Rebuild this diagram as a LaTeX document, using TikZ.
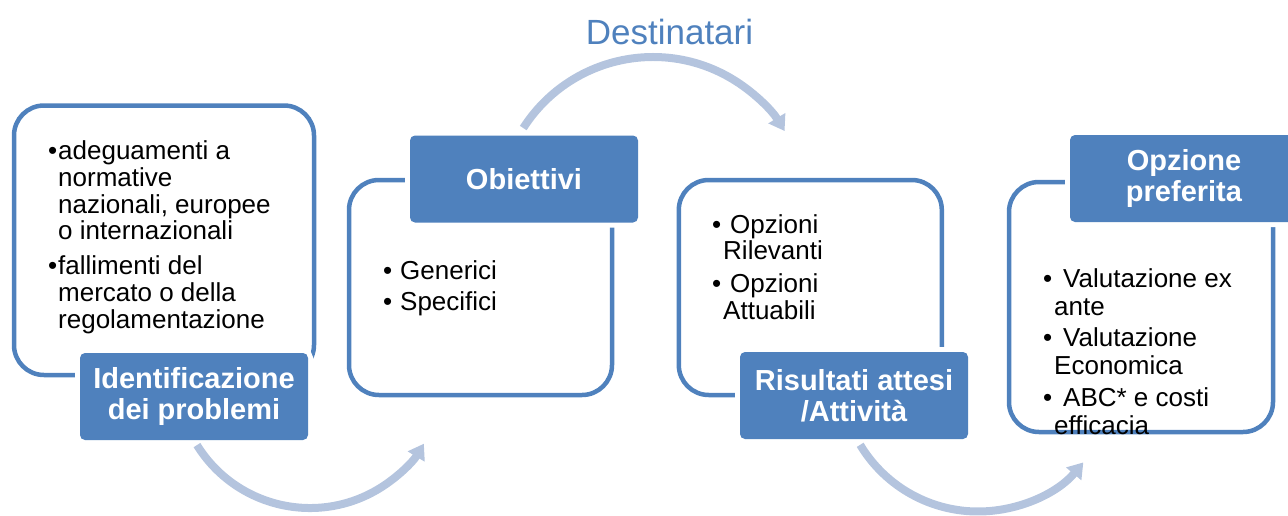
\documentclass[tikz,border=0pt]{standalone}
\usepackage{fontspec}
\setmainfont{Liberation Sans}
\usepackage{xcolor}
\usetikzlibrary{arrows.meta}

\definecolor{ppblue}{RGB}{79,129,189}
\definecolor{ppflow}{RGB}{180,196,222}

% punto elenco con rientro
\newcommand{\punto}[1][10pt]{\makebox[#1][l]{\textbullet}}

\tikzset{
  cornice/.style = {rectangle, draw=ppblue, line width=4.5pt, rounded corners=30pt, inner sep=0pt},
  etichetta/.style = {rectangle, fill=ppblue, rounded corners=5pt,
    preaction={draw=white, line width=10pt},
    text=white, font=\bfseries\fontsize{29}{31}\selectfont, align=center,
    minimum width=228pt, minimum height=87pt, inner sep=0pt},
  elenco/.style = {anchor=base west, inner sep=0pt, align=left}, % base = ultima riga
  freccia/.style = {draw=ppflow, line width=8pt, -{Triangle[width=19pt,length=15pt]}},
}

\begin{document}
\begin{tikzpicture}[x=1pt, y=1pt]
    \useasboundingbox (0,0) rectangle (1288,-515);

    % Cornici
    \node[cornice, minimum width=300pt, minimum height=269.5pt] (f1) at (164,-240.25) {};
    \node[cornice, minimum width=263pt, minimum height=215pt] (f2) at (480.5,-287.5) {};
    \node[cornice, minimum width=263pt, minimum height=215pt] (f3) at (810.3,-287.5) {};
    \node[cornice, minimum width=264pt, minimum height=250pt] (f4) at (1141,-307) {};

    % Elenchi puntati
    \node[elenco, font=\fontsize{26}{26.7}\selectfont] (t1) at (48,-328)
      {\punto adeguamenti a\\ \hspace*{10pt}normative\\ \hspace*{10pt}nazionali, europee\\
       \hspace*{10pt}o internazionali\\[8pt]
       \punto fallimenti del\\ \hspace*{10pt}mercato o della\\ \hspace*{10pt}regolamentazione};
    \node[elenco, font=\fontsize{26}{31}\selectfont] (t2) at (383,-310)
      {\punto[17pt]Generici\\ \punto[17pt]Specifici};
    \node[elenco, font=\fontsize{26}{26.5}\selectfont] (t3) at (712,-319)
      {\punto[18pt]Opzioni\\ \hspace*{11pt}Rilevanti\\[6.5pt]
       \punto[18pt]Opzioni\\ \hspace*{11pt}Attuabili};
    \node[elenco, font=\fontsize{26}{28}\selectfont] (t4) at (1043,-434)
      {\punto[20pt]Valutazione ex\\ \hspace*{11pt}ante\\[3.5pt]
       \punto[20pt]Valutazione\\ \hspace*{11pt}Economica\\[3.5pt]
       \punto[20pt]ABC* e costi\\ \hspace*{11pt}efficacia};

    % Etichette
    \node[etichetta] (l1) at (194,-396.5) {Identificazione\\dei problemi};
    \node[etichetta] (l2) at (524,-179) {Obiettivi};
    \node[etichetta] (l3) at (854,-395.5) {Risultati attesi\\/Attività};
    \node[etichetta] (l4) at (1184,-178.5) {Opzione\\preferita};

    \node[anchor=base, text=ppblue, font=\fontsize{35}{35}\selectfont] (dest) at (669.5,-44) {Destinatari};

    % Frecce ad arco
    \coordinate (c1) at (310,-375);
    \coordinate (c2) at (653,-211);
    \coordinate (c3) at (978,-374);
    \draw[freccia] (c1) ++(211.8:133) arc[start angle=211.8, end angle=328.9, radius=133];
    \draw[freccia] (c2) ++(147.4:154) arc[start angle=147.4, end angle=31.3, radius=154];
    \draw[freccia] (c3) ++(211:137.5) arc[start angle=211, end angle=320, radius=137.5];
\end{tikzpicture}
\end{document}
